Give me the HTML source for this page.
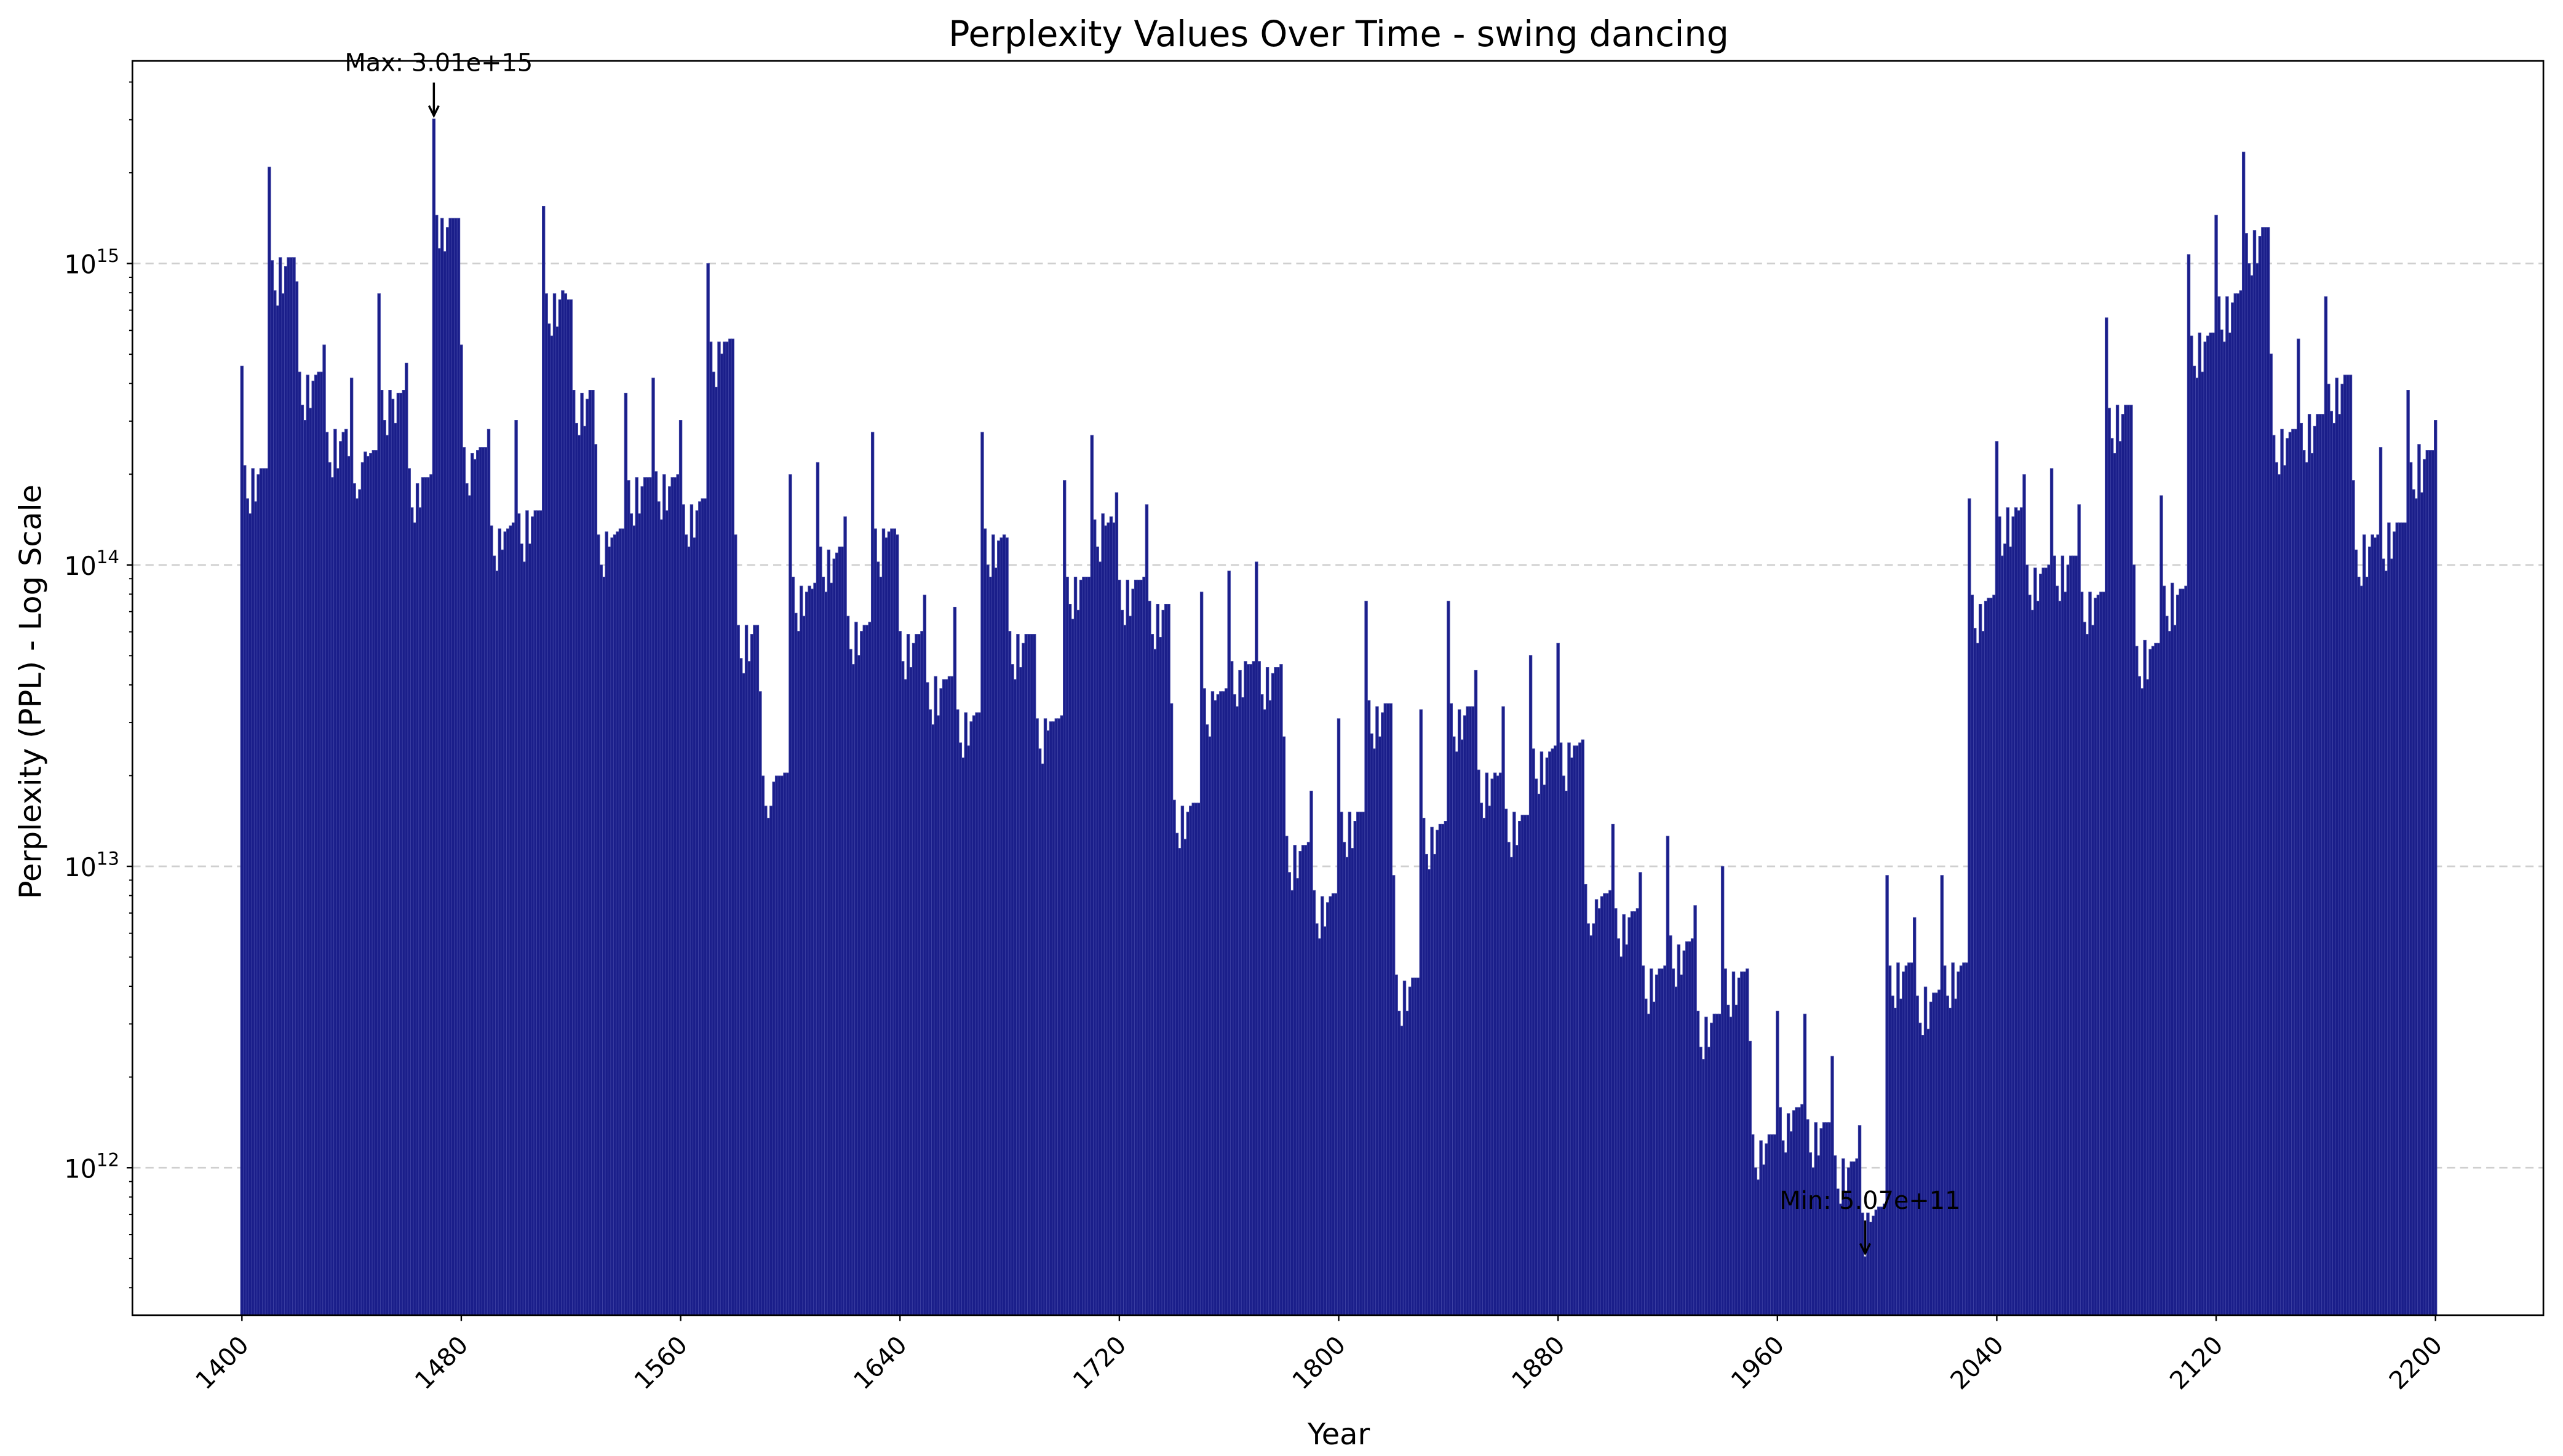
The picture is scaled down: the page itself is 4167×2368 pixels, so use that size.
<!DOCTYPE html>
<html><head><meta charset="utf-8"><style>
html,body{margin:0;padding:0;background:#fff}
svg{display:block}
text{font-family:"DejaVu Sans","Liberation Sans",sans-serif;fill:#000}
</style></head><body>
<svg id="chart" width="4167" height="2368" viewBox="0 0 1568 884" preserveAspectRatio="none" xmlns="http://www.w3.org/2000/svg">
<rect x="0" y="0" width="1568" height="884" fill="#fff"/>
<g id="grid"></g>
<g id="bars"></g>
<rect x="81" y="37" width="1475" height="761.5" fill="none" stroke="#000" stroke-width="1"/>
<g id="axes"></g>
<text x="819" y="28" font-size="21.5" text-anchor="middle">Perplexity Values Over Time - swing dancing</text>
<text x="819" y="877" font-size="18" text-anchor="middle">Year</text>
<text x="25" y="420" font-size="18.5" text-anchor="middle" transform="rotate(-90 25 420)">Perplexity (PPL) - Log Scale</text>
<g id="annot"></g>
</svg>
<script>
const startYear = 1400;
const xTickLabels = [1400,1480,1560,1640,1720,1800,1880,1960,2040,2120,2200];
const yTickExponents = [12,13,14,15];
const pplLog10 = [
14.66,14.33,14.22,14.17,14.32,14.21,14.30,14.32,14.32,14.32,
15.32,15.01,14.91,14.86,15.02,14.90,14.99,15.02,15.02,15.02,
14.94,14.64,14.53,14.48,14.63,14.52,14.61,14.63,14.64,14.64,
14.73,14.44,14.34,14.29,14.45,14.32,14.41,14.44,14.45,14.36,
14.62,14.27,14.22,14.25,14.34,14.375,14.36,14.37,14.38,14.38,
14.90,14.58,14.48,14.43,14.58,14.55,14.47,14.57,14.57,14.58,
14.67,14.32,14.19,14.14,14.27,14.19,14.29,14.29,14.29,14.30,
15.48,15.16,15.05,15.15,15.04,15.12,15.15,15.15,15.15,15.15,
14.73,14.39,14.27,14.23,14.37,14.35,14.38,14.39,14.39,14.39,
14.45,14.13,14.03,13.98,14.12,14.05,14.11,14.12,14.13,14.14,
14.48,14.17,14.07,14.01,14.18,14.07,14.16,14.18,14.18,14.18,
15.19,14.90,14.80,14.76,14.90,14.79,14.88,14.91,14.90,14.88,
14.88,14.58,14.47,14.43,14.57,14.46,14.55,14.58,14.58,14.40,
14.10,14.00,13.96,14.11,14.06,14.09,14.10,14.11,14.12,14.12,
14.57,14.28,14.17,14.13,14.29,14.17,14.26,14.29,14.29,14.29,
14.62,14.31,14.21,14.15,14.30,14.18,14.26,14.29,14.29,14.30,
14.48,14.20,14.10,14.06,14.20,14.09,14.18,14.21,14.22,14.22,
15.00,14.74,14.64,14.59,14.74,14.70,14.74,14.74,14.75,14.75,
14.10,13.80,13.69,13.64,13.80,13.68,13.77,13.80,13.80,13.58,
13.30,13.20,13.16,13.20,13.28,13.30,13.30,13.30,13.31,13.31,
14.30,13.96,13.84,13.78,13.93,13.83,13.91,13.93,13.92,13.94,
14.34,14.06,13.96,13.91,14.05,13.94,14.02,14.04,14.06,14.06,
14.16,13.83,13.72,13.67,13.81,13.70,13.78,13.80,13.80,13.81,
14.44,14.12,14.01,13.96,14.12,14.09,14.11,14.12,14.12,14.10,
13.78,13.68,13.62,13.77,13.66,13.74,13.77,13.77,13.78,13.90,
13.61,13.52,13.47,13.63,13.50,13.59,13.62,13.62,13.63,13.63,
13.86,13.52,13.41,13.36,13.51,13.40,13.48,13.50,13.51,13.51,
14.44,14.12,14.00,13.96,14.10,13.99,14.08,14.09,14.10,14.09,
13.78,13.67,13.62,13.77,13.66,13.74,13.77,13.77,13.77,13.77,
13.49,13.39,13.34,13.49,13.45,13.48,13.48,13.49,13.49,13.50,
14.28,13.96,13.87,13.82,13.96,13.85,13.95,13.96,13.96,13.96,
14.43,14.15,14.06,14.01,14.17,14.13,14.14,14.16,14.14,14.24,
13.95,13.85,13.80,13.95,13.83,13.92,13.95,13.95,13.95,13.96,
14.20,13.88,13.77,13.72,13.87,13.76,13.85,13.87,13.87,13.54,
13.22,13.11,13.06,13.20,13.09,13.18,13.20,13.21,13.21,13.21,
13.91,13.59,13.47,13.43,13.58,13.55,13.57,13.58,13.58,13.59,
13.98,13.68,13.57,13.53,13.65,13.56,13.68,13.67,13.67,13.68,
14.01,13.68,13.57,13.52,13.66,13.55,13.64,13.66,13.66,13.67,
13.43,13.10,12.98,12.92,13.07,12.96,13.05,13.07,13.07,13.08,
13.25,12.92,12.81,12.76,12.90,12.80,12.88,12.90,12.91,12.91,
13.49,13.18,13.08,13.03,13.18,13.06,13.15,13.18,13.18,13.18,
13.88,13.55,13.44,13.39,13.53,13.43,13.51,13.54,13.54,13.54,
12.97,12.64,12.52,12.47,12.62,12.52,12.60,12.63,12.63,12.63,
13.52,13.16,13.04,12.99,13.13,13.04,13.12,13.14,13.14,13.15,
13.88,13.54,13.43,13.38,13.52,13.42,13.50,13.53,13.53,13.53,
13.65,13.32,13.21,13.16,13.31,13.20,13.29,13.31,13.30,13.31,
13.53,13.19,13.08,13.03,13.18,13.07,13.15,13.17,13.17,13.17,
13.70,13.39,13.29,13.24,13.38,13.27,13.36,13.38,13.39,13.40,
13.74,13.41,13.30,13.25,13.41,13.36,13.40,13.40,13.41,13.42,
12.94,12.81,12.77,12.81,12.89,12.86,12.90,12.91,12.91,12.92,
13.14,12.86,12.76,12.70,12.84,12.74,12.83,12.85,12.85,12.86,
12.98,12.67,12.56,12.51,12.66,12.55,12.64,12.66,12.66,12.67,
13.10,12.77,12.66,12.60,12.74,12.64,12.72,12.75,12.75,12.76,
12.87,12.52,12.40,12.36,12.50,12.40,12.48,12.51,12.51,12.51,
13.00,12.66,12.54,12.50,12.65,12.54,12.63,12.65,12.65,12.66,
12.42,12.11,12.00,11.96,12.09,12.01,12.08,12.11,12.11,12.11,
12.52,12.20,12.09,12.05,12.18,12.12,12.19,12.20,12.20,12.21,
12.51,12.16,12.05,12.00,12.15,12.04,12.13,12.15,12.15,12.15,
12.37,12.04,11.93,11.88,12.03,11.92,12.00,12.02,12.02,12.03,
12.14,11.85,11.705,11.85,11.82,11.84,11.86,11.87,11.87,11.88,
12.97,12.67,12.57,12.53,12.68,12.56,12.65,12.67,12.68,12.68,
12.83,12.57,12.48,12.44,12.60,12.46,12.55,12.58,12.58,12.59,
12.97,12.67,12.57,12.53,12.68,12.56,12.65,12.67,12.68,12.68,
14.22,13.90,13.79,13.74,13.87,13.78,13.88,13.89,13.89,13.90,
14.41,14.16,14.03,14.07,14.19,14.06,14.16,14.19,14.18,14.19,
14.30,14.00,13.90,13.85,13.99,13.88,13.97,13.99,13.99,14.00,
14.32,14.03,13.93,13.88,14.03,13.91,14.00,14.03,14.03,14.03,
14.20,13.91,13.81,13.77,13.91,13.80,13.89,13.90,13.91,13.91,
14.82,14.52,14.42,14.37,14.53,14.41,14.50,14.53,14.53,14.53,
14.00,13.73,13.63,13.59,13.75,13.62,13.72,13.73,13.74,13.74,
14.23,13.93,13.83,13.78,13.94,13.80,13.90,13.92,13.92,13.93,
15.03,14.76,14.66,14.62,14.77,14.64,14.74,14.76,14.77,14.77,
15.16,14.89,14.78,14.74,14.89,14.77,14.87,14.90,14.90,14.91,
15.37,15.10,15.00,14.96,15.11,15.00,15.09,15.12,15.12,15.12,
14.70,14.43,14.34,14.30,14.45,14.33,14.42,14.44,14.45,14.45,
14.75,14.47,14.38,14.34,14.50,14.37,14.46,14.50,14.50,14.50,
14.89,14.60,14.51,14.47,14.62,14.50,14.60,14.63,14.63,14.63,
14.28,14.05,13.96,13.93,14.10,13.96,14.06,14.10,14.09,14.10,
14.39,14.02,13.98,14.14,14.02,14.11,14.14,14.14,14.14,14.14,
14.58,14.34,14.25,14.22,14.40,14.24,14.35,14.38,14.38,14.38,
14.48
];
const annMaxLabel = "Max: 3.01e+15";
const annMinLabel = "Min: 5.07e+11";

const NS = "http://www.w3.org/2000/svg";
const X0 = 148, XPY = 1.6775;
const Y15 = 160, DEC = 183, YBOT = 798.5, YTOP = 37;
function xs(year){ return X0 + (year - startYear) * XPY; }
function ys(l){ return Y15 + (15 - l) * DEC; }
function mk(tag, attrs, parent){ const e = document.createElementNS(NS, tag); for (const k in attrs) e.setAttribute(k, attrs[k]); parent.appendChild(e); return e; }

const grid = document.getElementById('grid');
const axes = document.getElementById('axes');
const bars = document.getElementById('bars');
const annot = document.getElementById('annot');

yTickExponents.forEach(function(ex){
  const y = ys(ex);
  const gl = mk('line', {x1:81, x2:1556, y1:y, y2:y, stroke:'#cfcfcf', 'stroke-width':1, 'stroke-dasharray':'5,3'}, grid);
  
  
  const tk = mk('line', {x1:77.5, x2:81, y1:y, y2:y, stroke:'#000', 'stroke-width':0.9}, axes);
  
  
  const t = mk('text', {x:73, y:y + 6, 'font-size':15.5, 'text-anchor':'end'}, axes);
  
  
  const a = document.createElementNS(NS, 'tspan'); a.textContent = '10'; t.appendChild(a);
  const b = document.createElementNS(NS, 'tspan'); b.setAttribute('dy', '-7'); b.setAttribute('font-size', '11'); b.textContent = String(ex); t.appendChild(b);
});
for (let ex = 11; ex <= 15; ex++) {
  for (let m = 2; m <= 9; m++) {
    const y = ys(ex + Math.log10(m));
    if (y < YTOP || y > YBOT) continue;
    const mt = mk('line', {x1:79, x2:81, y1:y, y2:y, stroke:'#000', 'stroke-width':0.7}, axes);
    
    
  }
}
xTickLabels.forEach(function(yr){
  const x = xs(yr);
  const tk = mk('line', {x1:x, x2:x, y1:YBOT, y2:YBOT + 3.5, stroke:'#000', 'stroke-width':0.9}, axes);
  
  
  const tx = x + 5, ty = YBOT + 19;
  const t = mk('text', {x:tx, y:ty, 'font-size':15, 'text-anchor':'end', transform:'rotate(-45 ' + tx + ' ' + ty + ')'}, axes);
  
  
  t.textContent = String(yr);
});

let maxI = 0, minI = 0;
pplLog10.forEach(function(l, i){
  if (l > pplLog10[maxI]) maxI = i;
  if (l < pplLog10[minI]) minI = i;
  const yr = startYear + i;
  const x = xs(yr) - XPY / 2;
  const yt = ys(l);
  const r = mk('rect', {x:x, y:yt, width:XPY, height:Math.max(0, YBOT - yt), fill:'#1a1e8a', stroke:'#3d41a3', 'stroke-width':0.35}, bars);
  
  
});

function annotate(i, label, name){
  const x = xs(startYear + i), y = ys(pplLog10[i]);
  const t = mk('text', {x:x + 3, y:y - 29, 'font-size':15, 'text-anchor':'middle'}, annot);
  
  
  t.textContent = label;
  const ln = mk('path', {d:'M' + x + ' ' + (y - 22) + ' L' + x + ' ' + (y - 3) + ' M' + (x - 3) + ' ' + (y - 8) + ' L' + x + ' ' + (y - 2) + ' L' + (x + 3) + ' ' + (y - 8), fill:'none', stroke:'#000', 'stroke-width':1.3}, annot);
  
  
}
annotate(maxI, annMaxLabel, 'max-annotation');
annotate(minI, annMinLabel, 'min-annotation');
</script>
</body></html>
